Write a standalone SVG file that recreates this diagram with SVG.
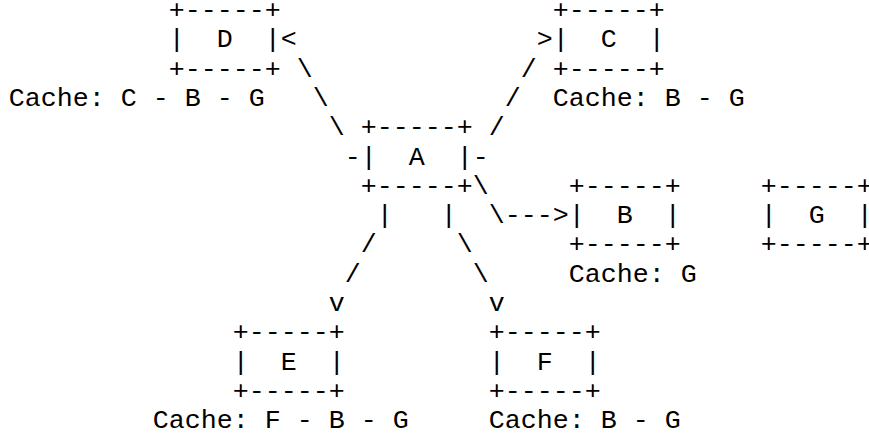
<svg xmlns="http://www.w3.org/2000/svg" width="869" height="437" viewBox="0 0 869 437">
<style>
text { font-family: "Liberation Mono", "Courier New", monospace; font-size: 26.667px; fill: #000; white-space: pre; }
</style>
<rect width="869" height="437" fill="#fff"/>
<g id="node-D" xml:space="preserve">
<text x="168.7" y="18">+-----+</text>
<text x="168.7" y="47.3">|  D  |</text>
<text x="168.7" y="76.6">+-----+</text>
<text x="8.7" y="105.9">Cache: C - B - G</text>
</g>
<g id="node-C" xml:space="preserve">
<text x="552.7" y="18">+-----+</text>
<text x="552.7" y="47.3">|  C  |</text>
<text x="552.7" y="76.6">+-----+</text>
<text x="552.7" y="105.9">Cache: B - G</text>
</g>
<g id="node-A" xml:space="preserve">
<text x="360.7" y="135.2">+-----+</text>
<text x="360.7" y="164.5">|  A  |</text>
<text x="360.7" y="193.8">+-----+</text>
</g>
<g id="node-B" xml:space="preserve">
<text x="568.7" y="193.8">+-----+</text>
<text x="568.7" y="223.1">|  B  |</text>
<text x="568.7" y="252.4">+-----+</text>
<text x="568.7" y="281.7">Cache: G</text>
</g>
<g id="node-G" xml:space="preserve">
<text x="760.7" y="193.8">+-----+</text>
<text x="760.7" y="223.1">|  G  |</text>
<text x="760.7" y="252.4">+-----+</text>
</g>
<g id="node-E" xml:space="preserve">
<text x="232.7" y="340.3">+-----+</text>
<text x="232.7" y="369.6">|  E  |</text>
<text x="232.7" y="398.9">+-----+</text>
<text x="152.7" y="428.2">Cache: F - B - G</text>
</g>
<g id="node-F" xml:space="preserve">
<text x="488.7" y="340.3">+-----+</text>
<text x="488.7" y="369.6">|  F  |</text>
<text x="488.7" y="398.9">+-----+</text>
<text x="488.7" y="428.2">Cache: B - G</text>
</g>
<g id="connectors" xml:space="preserve">
<text x="344.7" y="164.5">-</text>
<text x="328.7" y="135.2">\</text>
<text x="312.7" y="105.9">\</text>
<text x="296.7" y="76.6">\</text>
<text x="280.7" y="47.3">&lt;</text>
<text x="472.7" y="164.5">-</text>
<text x="488.7" y="135.2">/</text>
<text x="504.7" y="105.9">/</text>
<text x="520.7" y="76.6">/</text>
<text x="536.7" y="47.3">&gt;</text>
<text x="472.7" y="193.8">\</text>
<text x="488.7" y="223.1">\---&gt;</text>
<text x="376.7" y="223.1">|</text>
<text x="360.7" y="252.4">/</text>
<text x="344.7" y="281.7">/</text>
<text x="328.7" y="311">v</text>
<text x="440.7" y="223.1">|</text>
<text x="456.7" y="252.4">\</text>
<text x="472.7" y="281.7">\</text>
<text x="488.7" y="311">v</text>
</g>
</svg>
